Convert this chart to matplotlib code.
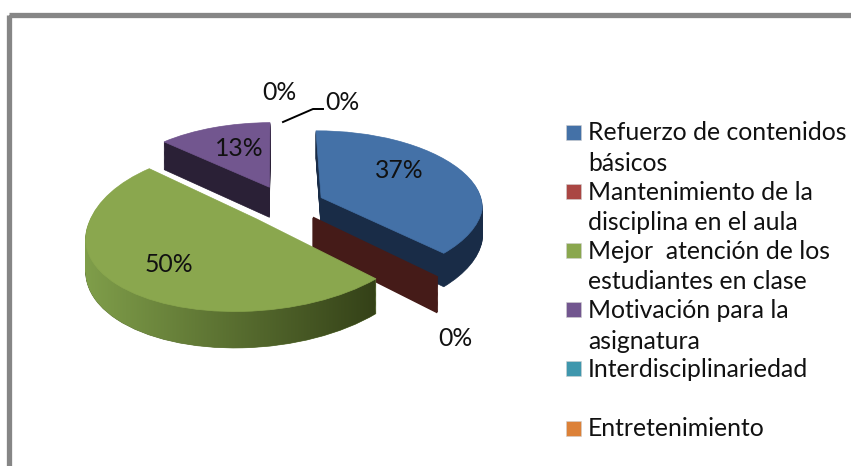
import matplotlib
matplotlib.use('Agg')
import matplotlib.pyplot as plt
import numpy as np
from matplotlib.patches import Rectangle
from matplotlib.path import Path
from matplotlib.transforms import Transform

plt.rcParams['font.family'] = ['Lato', 'DejaVu Sans']

categories = ['Refuerzo de contenidos\nbásicos', 'Mantenimiento de la\ndisciplina en el aula',
              'Mejor  atención de los\nestudiantes en clase', 'Motivación para la\nasignatura',
              'Interdisciplinariedad', 'Entretenimiento']
values = [37, 0, 50, 13, 0, 0]

top_colors = ['#4471a7', '#aa4643', '#8aa74e', '#72568f', '#3f97ad', '#dc8138']
side_colors = ['#192c47', '#451b18', '#5d7335', '#2a2036', '#3f97ad', '#dc8138']
draw_order = [3, 0, 1, 2]

CX, CY = 286, 205
RX, RY = 162, 77
TILT = 0.127
SKEW = 0.09
DEPTH = 31


class Tilted(Transform):
    # unit pie -> pixel position, far side shrinks, near side leans left
    input_dims = 2
    output_dims = 2

    def __init__(self, drop):
        super().__init__()
        self.drop = drop

    def transform_non_affine(self, values):
        x, y = values[:, 0], values[:, 1]
        w = 1 + TILT * y
        x = x + SKEW * np.minimum(y, 0)
        return np.column_stack([CX + RX * x / w, CY + (self.drop - RY * y) / w])


fig = plt.figure(figsize=(8.51, 4.66), dpi=100)
ax = fig.add_axes([0, 0, 1, 1])

green_side = []
for drop in range(DEPTH, -1, -1):
    colors = top_colors if drop == 0 else side_colors
    wedges, _ = ax.pie(values, explode=[0.24, 0.24, 0.24, 0.26, 0.24, 0.24], startangle=90.5,
                       counterclock=False, colors=colors)
    tr = Tilted(drop)
    for i, w in enumerate(wedges):
        w.set_transform(tr + ax.transData)
        if i in draw_order:
            w.set_zorder(2 + draw_order.index(i) * 2 + (1.5 if drop == 0 else 1 - drop / 100))
        w.set_edgecolor(side_colors[i] if values[i] == 0 or drop > 0 else top_colors[i])
        w.set_linewidth(1.8 if values[i] == 0 else 0.5)
        if i > 3:
            w.set_visible(False)
        if i == 2 and drop > 0:
            green_side.append(tr.transform_path(w.get_path().deepcopy().transformed(w.get_patch_transform())))

# shading along the front of the green slice
shade = np.linspace(0, 1, 256)[None, :, None]
light = np.array([0.50, 0.62, 0.29])
dark = np.array([0.20, 0.25, 0.09])
img = ax.imshow(light + (dark - light) * shade, extent=[85, 380, 400, 150], aspect='auto', zorder=9.2)
img.set_clip_path(Path.make_compound_path(*green_side), ax.transData)

ax.set_xlim(0, 851)
ax.set_ylim(466, 0)
ax.set_aspect('auto')
ax.axis('off')

# frame runs off the picture on the right and bottom
ax.add_patch(Rectangle((8.5, 14.5), 900, 500, fill=False, edgecolor='#868686', linewidth=3.8, zorder=1))

# data labels
label_xy = [(399, 171), (455, 338), (169, 264), (239, 149), (279, 92), (342, 102)]
for v, (x, y) in zip(values, label_xy):
    ax.text(x, y, f'{v}%', ha='center', va='center', fontsize=17.8, color='#111111', zorder=20)

ax.plot([283, 313, 323], [122, 109, 109], color='black', linewidth=1.4, zorder=20)

# legend
for i, label in enumerate(categories):
    y = 132 + i * 59.2
    ax.add_patch(Rectangle((566, y - 7.5), 15, 15, facecolor=top_colors[i], edgecolor='#d0d0d0', linewidth=0.4, zorder=5))
    for j, line in enumerate(label.split('\n')):
        ax.text(588, y + 1 + j * 30.5, line, va='center', ha='left', fontsize=17.8, color='#111111', zorder=20)

fig.savefig('out.png', dpi=100)
